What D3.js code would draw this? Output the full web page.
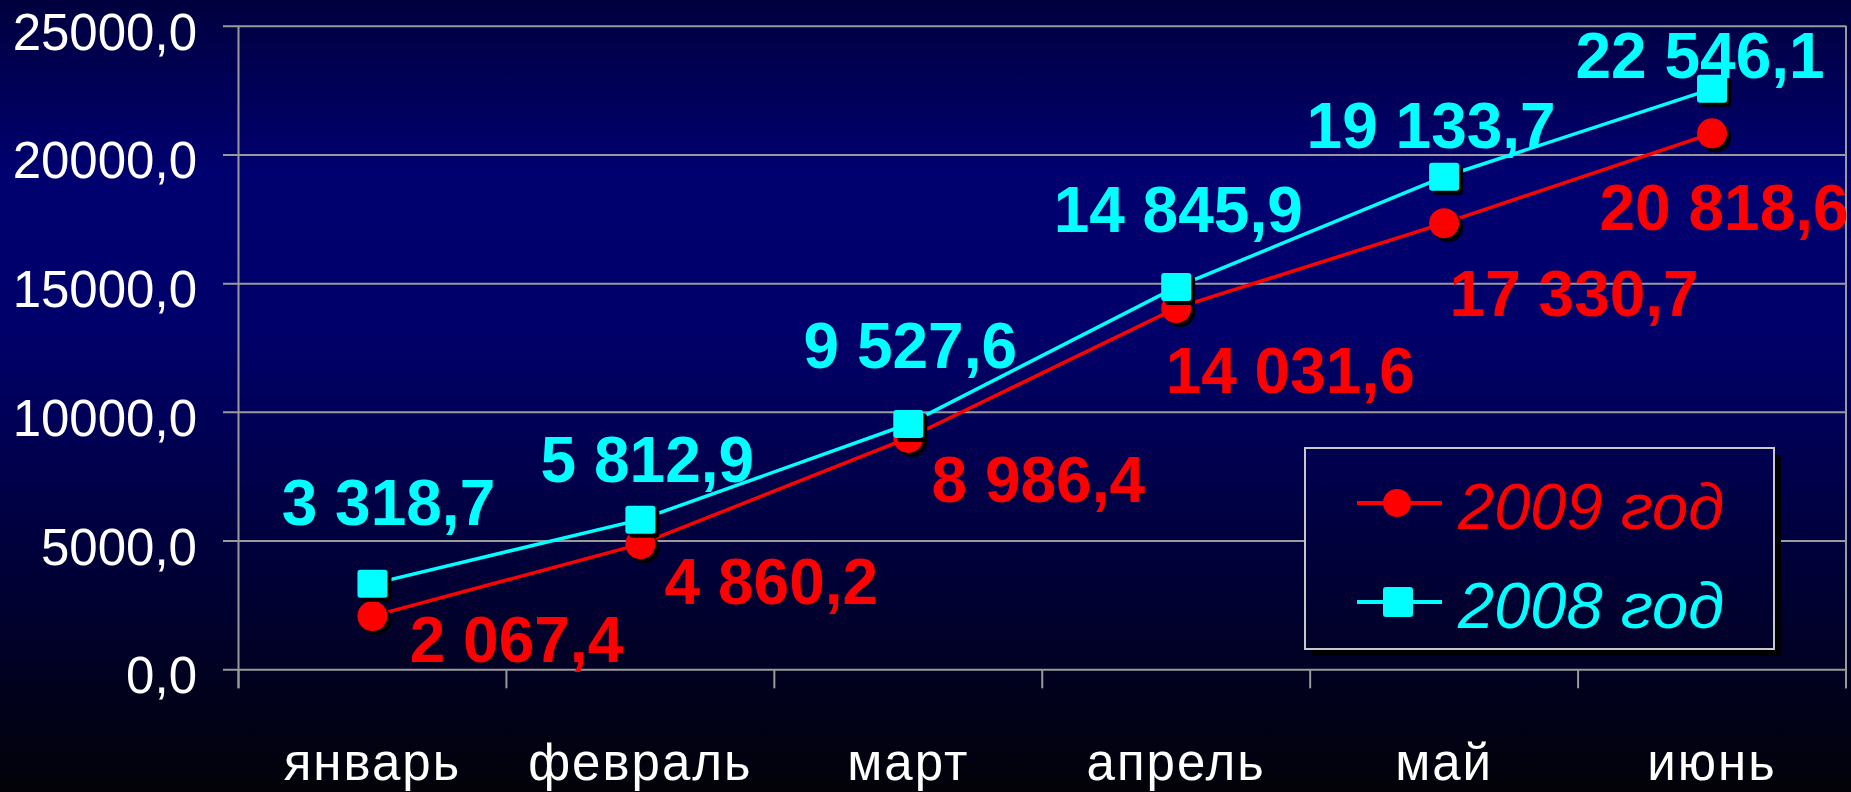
<!DOCTYPE html>
<html><head><meta charset="utf-8">
<script src="https://cdn.jsdelivr.net/npm/d3@7"></script>
<style>html,body{margin:0;padding:0;background:#000;overflow:hidden}</style>
</head><body>
<svg id="chart" width="1851" height="792"></svg>
<script>
// ---- data ----
const months = ["январь","февраль","март","апрель","май","июнь"];
const values2009 = [2067.4, 4860.2, 8986.4, 14031.6, 17330.7, 20818.6];
const values2008 = [3318.7, 5812.9, 9527.6, 14845.9, 19133.7, 22546.1];
const yTicks = [0, 5000, 10000, 15000, 20000, 25000];
const seriesNames = ["2009 год", "2008 год"];

// ---- layout (label offsets relative to points, px) ----
const labelOffset2009 = [[144,46],[131,60],[130,64],[114,85],[130,93],[12,97]];
const labelOffset2008 = [[16,-59],[7,-38],[2,-56],[2,-55],[-13,-29],[-12,-11]];

const W = 1851, H = 792;
const plot = {left: 238.5, right: 1846, top: 25.7, bottom: 669.3};
const RED = "#ff0000", CYAN = "#00ffff", GRID = "#9a9a9a";

const svg = d3.select("#chart");
const defs = svg.append("defs");
const bg = defs.append("linearGradient").attr("id","bg")
  .attr("gradientUnits","userSpaceOnUse").attr("x1",0).attr("y1",0).attr("x2",0).attr("y2",H);
[[0,"#00003e"],[0.22,"#000070"],[0.42,"#00006a"],[0.68,"#00003e"],[1,"#020208"]]
  .forEach(([o,c]) => bg.append("stop").attr("offset",o).attr("stop-color",c));

svg.append("rect").attr("width",W).attr("height",H).attr("fill","url(#bg)");

const x = d3.scaleBand().domain(months).range([plot.left, plot.right]);
const y = d3.scaleLinear().domain([0,25000]).range([plot.bottom, plot.top]);
const cx = m => x(m) + x.bandwidth()/2;

const tickLocale = d3.formatLocale({decimal: ",", thousands: "", grouping: [3], currency: ["",""]});
const labelLocale = d3.formatLocale({decimal: ",", thousands: " ", grouping: [3], currency: ["",""]});
const fmtTick = tickLocale.format(".1f");
const fmtLabel = labelLocale.format(",.1f");

// y axis with gridlines
const yAxis = d3.axisLeft(y).tickValues(yTicks).tickFormat(fmtTick)
  .tickSizeInner(-(plot.right - 223)).tickSizeOuter(0).tickPadding(26);
const gy = svg.append("g").attr("transform","translate(223,0)").call(yAxis);
gy.select(".domain").remove();
gy.selectAll(".tick line").attr("stroke",GRID).attr("stroke-width",2);
gy.selectAll(".tick text").attr("fill","#ffffff")
  .style("font-family","'Liberation Sans', Arial, sans-serif").style("font-size","51px")
  .attr("dy","0.46em");

// vertical axis line and right border
[plot.left, plot.right].forEach(xx => {
  svg.append("line").attr("x1",xx).attr("x2",xx).attr("y1",plot.top).attr("y2",plot.bottom+19)
    .attr("stroke",GRID).attr("stroke-width",2);
});

// x axis: boundary ticks + labels
const xAxis = d3.axisBottom(x).tickSize(0).tickPadding(0);
const gx = svg.append("g").attr("transform",`translate(0,${plot.bottom})`).call(xAxis);
gx.select(".domain").remove();
gx.selectAll(".tick text").attr("fill","#ffffff").attr("y",111).attr("dy",0)
  .style("font-family","'Liberation Sans', Arial, sans-serif").style("font-size","51px")
  .style("letter-spacing","2px");
const boundaries = d3.range(months.length + 1).map(i => plot.left + i * x.step());
svg.append("g").selectAll("line").data(boundaries).join("line")
  .attr("x1",d=>d).attr("x2",d=>d).attr("y1",plot.bottom).attr("y2",plot.bottom+19)
  .attr("stroke",GRID).attr("stroke-width",2);

// series
const series = [
  {name: seriesNames[0], values: values2009, color: RED, marker: "circle", offs: labelOffset2009},
  {name: seriesNames[1], values: values2008, color: CYAN, marker: "square", offs: labelOffset2008}
];
const line = d3.line().x((d,i)=>cx(months[i])).y(d=>y(d));

series.forEach(s => {
  const g = svg.append("g");
  g.append("path").attr("d", line(s.values)).attr("fill","none")
    .attr("stroke", s.color).attr("stroke-width",3.5);
  s.values.forEach((v,i) => {
    const px = cx(months[i]), py = y(v);
    if (s.marker === "circle") {
      g.append("circle").attr("cx",px+4).attr("cy",py+4).attr("r",15).attr("fill","#000");
      g.append("circle").attr("cx",px).attr("cy",py).attr("r",15).attr("fill",s.color);
    } else {
      g.append("rect").attr("x",px-15+4).attr("y",py-14+4).attr("width",30).attr("height",28).attr("rx",3).attr("fill","#000");
      g.append("rect").attr("x",px-15).attr("y",py-14).attr("width",30).attr("height",28).attr("rx",3).attr("fill",s.color);
    }
  });
});
// labels on top
series.forEach(s => {
  svg.append("g").selectAll("text").data(s.values).join("text")
    .attr("x",(d,i)=>cx(months[i]) + s.offs[i][0])
    .attr("y",(d,i)=>y(d) + s.offs[i][1])
    .attr("text-anchor","middle").attr("fill",s.color)
    .style("font-family","'Liberation Sans', Arial, sans-serif").style("font-size","64px")
    .style("font-weight","bold")
    .text(d=>fmtLabel(d));
});

// legend
const lg = {x: 1305, y: 448, w: 469, h: 201};
svg.append("rect").attr("x",lg.x+7).attr("y",lg.y+7).attr("width",lg.w).attr("height",lg.h).attr("fill","#000");
svg.append("rect").attr("x",lg.x).attr("y",lg.y).attr("width",lg.w).attr("height",lg.h)
  .attr("fill","url(#bg)").attr("stroke","#c8c8c8").attr("stroke-width",2);
series.forEach((s,i) => {
  const ly = lg.y + 55 + i*99;
  const g = svg.append("g");
  g.append("line").attr("x1",lg.x+52).attr("x2",lg.x+137).attr("y1",ly).attr("y2",ly)
    .attr("stroke",s.color).attr("stroke-width",4);
  if (s.marker === "circle") g.append("circle").attr("cx",lg.x+92).attr("cy",ly).attr("r",14).attr("fill",s.color);
  else g.append("rect").attr("x",lg.x+78).attr("y",ly-15).attr("width",30).attr("height",30).attr("rx",3).attr("fill",s.color);
  g.append("text").attr("x",lg.x+153).attr("y",ly+26).attr("fill",s.color)
    .style("font-family","'Liberation Sans', Arial, sans-serif").style("font-size","65px")
    .style("font-style","italic").text(s.name);
});
</script>
</body></html>
